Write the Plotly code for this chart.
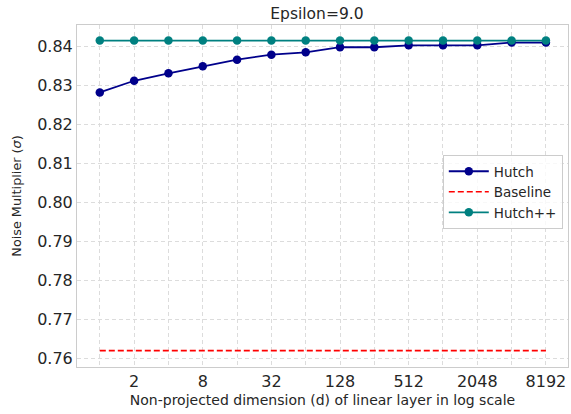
import plotly.graph_objects as go

dims = [1, 2, 4, 8, 16, 32, 64, 128, 256, 512, 1024, 2048, 4096, 8192]
hutch = [0.8281, 0.8311, 0.8330, 0.8348, 0.8365, 0.8378, 0.8384, 0.8397, 0.8397,
         0.8402, 0.8402, 0.8402, 0.8409, 0.8409]
baseline = [0.7619] * len(dims)
hutchpp = [0.8414] * len(dims)
xtick_vals = [2, 8, 32, 128, 512, 2048, 8192]
xtick_text = ["2", "8", "32", "128", "512", "2048", "8192"]
minor_vals = [1, 4, 16, 64, 256, 1024, 4096]
ytick_vals = [0.76, 0.77, 0.78, 0.79, 0.80, 0.81, 0.82, 0.83, 0.84]
ytick_text = ["0.76", "0.77", "0.78", "0.79", "0.80", "0.81", "0.82", "0.83", "0.84"]

fig = go.Figure()
fig.add_trace(go.Scatter(x=dims, y=hutch, mode="lines+markers", name="Hutch",
                         line=dict(color="#00008b", width=1.8),
                         marker=dict(color="#00008b", size=8.5)))
fig.add_trace(go.Scatter(x=dims, y=baseline, mode="lines", name="Baseline",
                         line=dict(color="#ff0000", width=1.6, dash="6px,3px")))
fig.add_trace(go.Scatter(x=dims, y=hutchpp, mode="lines+markers", name="Hutch++",
                         line=dict(color="#008080", width=1.8),
                         marker=dict(color="#008080", size=8.5)))

grid = "#dcdcdc"
gdash = "4px,3px"
fig.update_layout(
    width=571, height=414,
    margin=dict(l=77, r=3, t=25, b=47, autoexpand=False),
    paper_bgcolor="white", plot_bgcolor="white",
    font=dict(family="DejaVu Sans", color="#262626"),
    title=dict(text="Epsilon=9.0", x=0.555, xanchor="center", y=0.968, yanchor="middle",
               font=dict(size=15.5, color="#262626")),
    showlegend=True,
    legend=dict(x=0.745, y=0.62, xanchor="left", yanchor="top",
                bgcolor="rgba(255,255,255,0.8)", bordercolor="#cccccc", borderwidth=1,
                font=dict(size=13.5), tracegroupgap=0, itemwidth=40),
)
fig.update_xaxes(type="log", range=[-0.2, 4.107], automargin=False,
                 tickmode="array", tickvals=xtick_vals, ticktext=xtick_text,
                 tickfont=dict(size=16), ticks="",
                 showgrid=True, gridcolor=grid, griddash=gdash, gridwidth=1,
                 minor=dict(tickmode="array", tickvals=minor_vals, showgrid=True,
                            gridcolor=grid, griddash=gdash, gridwidth=1),
                 showline=True, linecolor="#cccccc", linewidth=1, mirror=True,
                 zeroline=False,
                 title=dict(text="Non-projected dimension (d) of linear layer in log scale",
                            font=dict(size=14), standoff=4))
fig.update_yaxes(range=[0.7577, 0.8454], automargin=False,
                 tickmode="array", tickvals=ytick_vals, ticktext=ytick_text,
                 tickfont=dict(size=16), ticks="",
                 showgrid=True, gridcolor=grid, griddash=gdash, gridwidth=1,
                 showline=True, linecolor="#cccccc", linewidth=1, mirror=True,
                 zeroline=False,
                 title=dict(text="Noise Multiplier (<i>σ</i>)", font=dict(size=12.8), standoff=12))

fig.write_html("out.html", config={"displayModeBar": False},
               post_script="document.body.style.margin='0';document.body.style.padding='0';")
